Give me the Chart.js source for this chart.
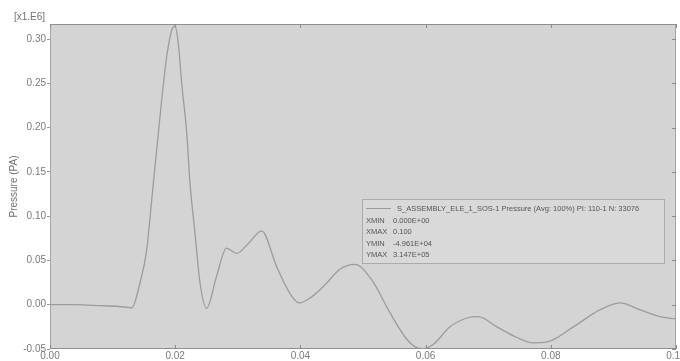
<!DOCTYPE html>
<html>
<head>
<meta charset="utf-8">
<script src="https://cdn.jsdelivr.net/npm/chart.js@4"></script>
<style>
  html, body { margin: 0; padding: 0; background: #fff; }
  #wrap { position: relative; width: 680px; height: 361px; }
</style>
</head>
<body>
<div id="wrap"><canvas id="c" width="680" height="361"></canvas></div>
<script>
// Time (s) and pressure (x1.E6 Pa) of the probed node
const timeValues = [
  0.000, 0.004, 0.008, 0.0110, 0.0125, 0.01305, 0.01438, 0.01545, 0.01625, 0.01704,
  0.01784, 0.01864, 0.01944, 0.01997, 0.02050, 0.02104, 0.02184, 0.02236, 0.02316, 0.02396,
  0.02503, 0.0266, 0.0282, 0.0298, 0.0318, 0.0338, 0.0362, 0.0383, 0.0398, 0.0420,
  0.0442, 0.0463, 0.0487, 0.0514, 0.0543, 0.0570, 0.0586, 0.0596, 0.0612, 0.0639,
  0.0666, 0.0684, 0.0714, 0.0746, 0.0772, 0.0794, 0.0836, 0.0879, 0.0911, 0.0942,
  0.0974, 0.1000
];
const pressureValues = [
  0.000, 0.000, -0.001, -0.002, -0.003, -0.0037, 0.0248, 0.0620, 0.1184, 0.1748,
  0.2312, 0.2800, 0.3100, 0.3147, 0.2950, 0.2500, 0.1940, 0.1376, 0.0812, 0.0248,
  -0.004, 0.032, 0.064, 0.058, 0.070, 0.0835, 0.043, 0.013, 0.002, 0.010,
  0.0245, 0.040, 0.0455, 0.028, -0.009, -0.039, -0.0485, -0.0496, -0.045, -0.025,
  -0.015, -0.0135, -0.025, -0.037, -0.043, -0.042, -0.025, -0.0056, 0.002, -0.0056,
  -0.0135, -0.016
];
const xTickValues = [0.00, 0.02, 0.04, 0.06, 0.08, 0.10];
const yTickValues = [-0.05, 0.00, 0.05, 0.10, 0.15, 0.20, 0.25, 0.30];

const seriesName = 'S_ASSEMBLY_ELE_1_SOS-1 Pressure (Avg: 100%) PI: 110-1 N: 33076';
const statNames = ['XMIN', 'XMAX', 'YMIN', 'YMAX'];
const statValues = ['0.000E+00', '0.100', '-4.961E+04', '3.147E+05'];
const scaleNote = '[x1.E6]';

const points = timeValues.map((t, i) => ({ x: t, y: pressureValues[i] }));

const FONT = '"Liberation Sans", Arial, sans-serif';
const TICK_COLOR = '#7a7a7a';

// Gray plot background, frame, inward ticks, legend box and scale note
const decorations = {
  id: 'decorations',
  beforeDatasetsDraw(chart) {
    const { ctx, chartArea: a } = chart;
    ctx.save();
    ctx.fillStyle = '#d4d4d4';
    ctx.fillRect(a.left, a.top, a.right - a.left, a.bottom - a.top);
    ctx.strokeStyle = '#a4a4a4';
    ctx.lineWidth = 1;
    ctx.strokeRect(a.left + 0.5, a.top + 0.5, a.right - a.left - 1, a.bottom - a.top - 1);
    ctx.strokeStyle = '#8f8f8f';
    ctx.beginPath();
    ctx.moveTo(a.left, a.top + 0.5); ctx.lineTo(a.right, a.top + 0.5);
    ctx.moveTo(a.left, a.bottom - 0.5); ctx.lineTo(a.right, a.bottom - 0.5);
    ctx.stroke();
    // inward ticks
    const xs = chart.scales.x, ys = chart.scales.y;
    ctx.strokeStyle = '#8a8a8a';
    ctx.beginPath();
    xTickValues.forEach(v => {
      const px = Math.round(xs.getPixelForValue(v)) + 0.5;
      ctx.moveTo(px, a.bottom); ctx.lineTo(px, a.bottom - 4);
      ctx.moveTo(px, a.top); ctx.lineTo(px, a.top + 4);
    });
    yTickValues.forEach(v => {
      const py = Math.round(ys.getPixelForValue(v)) + 0.5;
      ctx.moveTo(a.right, py); ctx.lineTo(a.right - 4, py);
    });
    ctx.stroke();
    ctx.restore();
  },
  afterDatasetsDraw(chart) {
    const { ctx } = chart;
    const ds = chart.data.datasets[0];
    ctx.save();
    // legend box
    const bx = 362, by = 199, bw = 302, bh = 64;
    ctx.fillStyle = '#d9d9d9';
    ctx.fillRect(bx, by, bw, bh);
    ctx.strokeStyle = '#ababab';
    ctx.lineWidth = 1;
    ctx.strokeRect(bx + 0.5, by + 0.5, bw, bh);
    ctx.strokeStyle = ds.borderColor;
    ctx.lineWidth = 1;
    ctx.beginPath();
    ctx.moveTo(bx + 4, by + 9.5); ctx.lineTo(bx + 29, by + 9.5);
    ctx.stroke();
    ctx.fillStyle = '#555';
    ctx.font = '7.5px ' + FONT;
    ctx.textBaseline = 'middle';
    ctx.textAlign = 'left';
    ctx.fillText(seriesName, bx + 35, by + 10);
    statNames.forEach((n, i) => {
      const y = by + 21.5 + i * 11.5;
      ctx.fillText(n, bx + 4, y);
      ctx.fillText(statValues[i], bx + 31, y);
    });
    // scale note above the y axis
    ctx.font = '10px ' + FONT;
    ctx.fillStyle = '#6f6f6f';
    ctx.textBaseline = 'middle';
    ctx.fillText(scaleNote, 14, 17);
    ctx.restore();
  }
};

new Chart(document.getElementById('c'), {
  type: 'line',
  data: {
    datasets: [{
      data: points,
      borderColor: '#9c9c9c',
      borderWidth: 1.3,
      pointRadius: 0,
      tension: 0.35,
      cubicInterpolationMode: 'monotone',
      fill: false
    }]
  },
  options: {
    responsive: false,
    animation: false,
    devicePixelRatio: 1,
    layout: { padding: { top: 24, right: 4, left: 8, bottom: 0 } },
    plugins: { legend: { display: false }, tooltip: { enabled: false } },
    scales: {
      x: {
        type: 'linear',
        min: 0, max: 0.10,
        afterBuildTicks: s => { s.ticks = xTickValues.map(v => ({ value: v })); },
        afterFit: s => { s.height = 12; s.paddingLeft = 0; s.paddingRight = 0; },
        grid: { display: true, drawOnChartArea: false, drawTicks: false, color: '#999' },
        border: { display: false },
        ticks: {
          padding: 1,
          maxRotation: 0,
          autoSkip: false,
          color: TICK_COLOR,
          font: { family: FONT, size: 10 },
          callback: v => v.toFixed(2)
        }
      },
      y: {
        type: 'linear',
        min: -0.05, max: 0.317,
        afterBuildTicks: s => { s.ticks = yTickValues.map(v => ({ value: v })); },
        afterFit: s => { s.width = 42; s.paddingTop = 0; s.paddingBottom = 0; },
        grid: { display: true, drawOnChartArea: false, drawTicks: true, tickLength: 3, color: '#999' },
        border: { display: false },
        title: {
          display: true,
          text: 'Pressure (PA)',
          color: '#6f6f6f',
          font: { family: FONT, size: 10 },
          padding: { top: 0, bottom: 2 }
        },
        ticks: {
          padding: 1,
          autoSkip: false,
          color: TICK_COLOR,
          font: { family: FONT, size: 10 },
          callback: v => v.toFixed(2)
        }
      }
    }
  },
  plugins: [decorations]
});
</script>
</body>
</html>
